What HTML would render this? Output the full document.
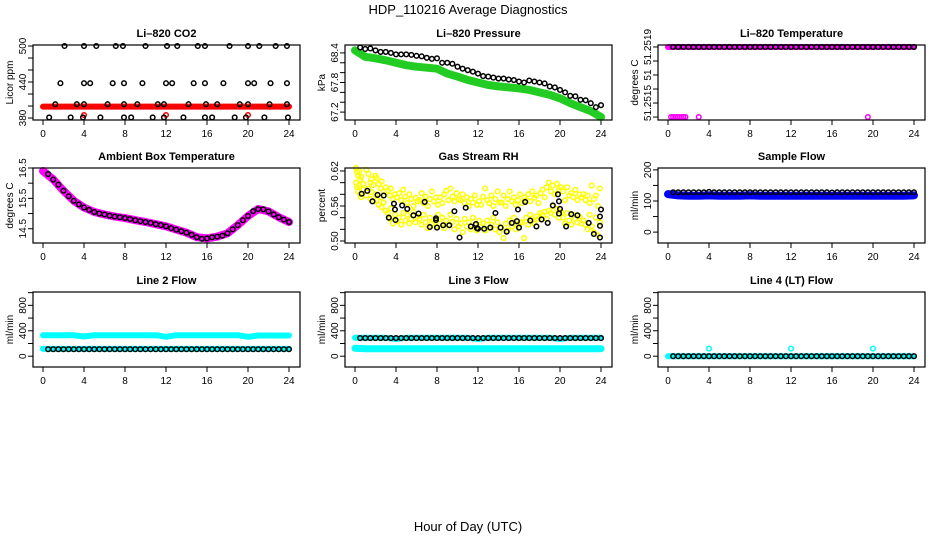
<!DOCTYPE html>
<html><head><meta charset="utf-8">
<style>
html,body{margin:0;padding:0;background:#fff;}
svg{display:block;font-family:"Liberation Sans",sans-serif;}
</style></head>
<body>
<svg id="chart" width="936" height="540" viewBox="0 0 936 540" xmlns="http://www.w3.org/2000/svg">
<rect x="0" y="0" width="936" height="540" fill="#fff"/>
<text x="468" y="14" text-anchor="middle" font-size="13">HDP_110216  Average Diagnostics</text>
<text x="468" y="531" text-anchor="middle" font-size="13">Hour of Day (UTC)</text>
</svg>
<script>
// ---------- data ----------
const halfHours = [0.5,1,1.5,2,2.5,3,3.5,4,4.5,5,5.5,6,6.5,7,7.5,8,8.5,9,9.5,10,10.5,11,11.5,12,12.5,13,13.5,14,14.5,15,15.5,16,16.5,17,17.5,18,18.5,19,19.5,20,20.5,21,21.5,22,22.5,23,23.5,24];
const hours = [0,1,2,3,4,5,6,7,8,9,10,11,12,13,14,15,16,17,18,19,20,21,22,23,24];
const xTicks = [0,4,8,12,16,20,24];

const co2BlackH = [2.1,4,5.2,7.1,7.8,10,12.1,13.1,15.1,15.8,18.2,20,21.1,22.7,23.8,
 1.7,4,4.6,6.8,7.9,9.7,12,12.6,14.7,15.8,17.6,20,20.6,22.2,23.8,
 1.2,3.3,4,6.3,7.9,9.2,11.2,11.8,14.2,15.9,17,19.2,20,22.1,23.8,
 0.6,2.7,3.9,5.6,7.9,8.6,10.7,11.8,13.7,15.8,16.5,18.7,19.8,21.6,23.9];
const co2BlackV = [500,500,500,500,500,500,500,500,500,500,500,500,500,500,500,
 438,438,438,438,438,438,438,438,438,438,438,438,438,438,438,
 403,403,403,403,403,403,403,403,403,403,403,403,403,403,403,
 381,381,381,381,381,381,381,381,381,381,381,381,381,381,381];
const co2Red = [399,399,399,399,399,399,399,399,399,399,399,399,399,399,399,399,399,399,399,399,399,399,399,399,399];
const co2RedSpikeH = [4,12,20];
const co2RedSpikeV = [385,385,385];

const presBlack = [68.51,68.48,68.49,68.45,68.42,68.42,68.4,68.37,68.37,68.37,68.36,68.34,68.33,68.3,68.28,68.29,68.2,68.2,68.18,68.12,68.08,68.05,68.02,67.98,67.93,67.92,67.9,67.88,67.88,67.86,67.85,67.82,67.8,67.84,67.82,67.8,67.78,67.72,67.7,67.65,67.6,67.53,67.52,67.45,67.44,67.38,67.3,67.34];
const presGreen = [68.45,68.32,68.29,68.25,68.2,68.15,68.12,68.1,68.08,67.98,67.92,67.85,67.8,67.75,67.72,67.7,67.68,67.65,67.6,67.55,67.48,67.38,67.3,67.22,67.1];

const tempBlack = [51.2519,51.2519,51.2519,51.2519,51.2519,51.2519,51.2519,51.2519,51.2519,51.2519,51.2519,51.2519,51.2519,51.2519,51.2519,51.2519,51.2519,51.2519,51.2519,51.2519,51.2519,51.2519,51.2519,51.2519,51.2519,51.2519,51.2519,51.2519,51.2519,51.2519,51.2519,51.2519,51.2519,51.2519,51.2519,51.2519,51.2519,51.2519,51.2519,51.2519,51.2519,51.2519,51.2519,51.2519,51.2519,51.2519,51.2519,51.2519];
const tempMagenta = [51.2519,51.2519,51.2519,51.2519,51.2519,51.2519,51.2519,51.2519,51.2519,51.2519,51.2519,51.2519,51.2519,51.2519,51.2519,51.2519,51.2519,51.2519,51.2519,51.2519,51.2519,51.2519,51.2519,51.2519,51.2519];
const tempLowH = [0.3,0.5,0.7,0.9,1.1,1.3,1.5,1.7,3.0,19.5];
const tempLowV = [51.2514,51.2514,51.2514,51.2514,51.2514,51.2514,51.2514,51.2514,51.2514,51.2514];

const ambBlack = [16.3,16.12,15.95,15.75,15.57,15.42,15.3,15.2,15.12,15.05,15.0,14.97,14.93,14.9,14.88,14.85,14.82,14.78,14.75,14.72,14.69,14.65,14.62,14.58,14.52,14.47,14.42,14.37,14.3,14.22,14.17,14.18,14.22,14.24,14.27,14.35,14.48,14.62,14.78,14.92,15.08,15.15,15.14,15.07,14.97,14.88,14.8,14.72];
const ambMagenta = [16.4,16.12,15.75,15.42,15.2,15.05,14.97,14.9,14.85,14.78,14.72,14.65,14.58,14.47,14.37,14.22,14.18,14.24,14.35,14.62,14.92,15.15,15.07,14.88,14.72];

const rhBlackH = [0.65,1.2,1.7,2.2,2.8,3.3,3.8,3.9,3.95,4.6,5.1,5.7,6.2,6.8,7.3,7.9,7.9,8.0,8.6,9.2,9.7,10.2,10.8,11.3,11.8,11.9,12.0,12.6,13.2,13.7,14.2,14.8,15.3,15.8,15.9,16.0,16.6,17.1,17.7,18.2,18.8,19.3,19.8,19.9,19.9,20.0,20.6,21.1,21.7,22.8,23.3,23.9,23.9,23.9,24.0];
const rhBlackV = [0.581,0.586,0.568,0.579,0.578,0.540,0.564,0.554,0.536,0.561,0.555,0.544,0.547,0.567,0.524,0.539,0.536,0.523,0.527,0.527,0.551,0.506,0.557,0.525,0.529,0.522,0.521,0.521,0.523,0.548,0.523,0.516,0.531,0.534,0.554,0.523,0.567,0.535,0.525,0.537,0.531,0.561,0.580,0.568,0.547,0.555,0.525,0.546,0.544,0.531,0.512,0.506,0.526,0.542,0.554];
const rhYellowH = [0.1,0.2,0.3,0.4,0.5,0.6,0.8, 1.1,1.3,1.5,1.6,1.8,2.0, 2.1,2.3,2.5,2.6,2.8,3.0, 3.2,3.4,3.5,3.7,3.9,4.1,
 4.3,4.5,4.7,4.9,5.1,5.3,5.5,5.7,5.9,6.1, 6.3,6.5,6.7,6.9,7.1,7.3,7.5,7.7,7.9,8.1, 8.3,8.5,8.7,8.9,9.1,9.3,9.5,9.7,9.9,10.1,
 10.3,10.5,10.7,10.9,11.1,11.3,11.5,11.7,11.9,12.1, 12.3,12.5,12.7,12.9,13.1,13.3,13.5,13.7,13.9,14.1,
 14.3,14.5,14.7,14.9,15.1,15.3,15.5,15.7,15.9,16.1, 16.3,16.5,16.7,16.9,17.1,17.3,17.5,17.7,17.9,18.1,
 18.3,18.5,18.7,18.9,19.1,19.3,19.5,19.7,19.9,20.1, 20.3,20.5,20.7,20.9,21.1,21.3,21.5,21.7,21.9,22.1,
 22.3,22.5,22.7,22.9,23.1,23.3,23.5,23.7,23.9];
const rhYellowA = [.625,.618,.612,.620,.605,.610,.598, .622,.615,.600,.606,.596,.612, .608,.598,.590,.602,.585,.592, .586,.578,.590,.572,.580,.575,
 .582,.570,.588,.576,.565,.580,.572,.560,.574,.568, .570,.582,.565,.576,.560,.572,.585,.568,.575,.562, .575,.565,.580,.586,.570,.590,.576,.568,.582,.572,
 .570,.580,.565,.575,.560,.572,.566,.578,.562,.568, .562,.576,.590,.570,.565,.578,.560,.572,.585,.566,
 .566,.578,.560,.572,.585,.568,.575,.562,.570,.580, .565,.575,.570,.580,.568,.585,.574,.578,.565,.582,
 .588,.575,.592,.600,.585,.595,.580,.598,.588,.592, .585,.570,.592,.578,.582,.575,.588,.570,.580,.575,
 .580,.570,.578,.565,.595,.572,.578,.560,.590];
const rhYellowB = [.600,.592,.585,.595,.580,.575,.588, .578,.590,.572,.584,.568,.580, .570,.562,.575,.558,.566,.552, .548,.538,.556,.530,.545,.534,
 .540,.528,.548,.535,.545,.530,.538,.550,.532,.542, .538,.528,.545,.532,.522,.540,.530,.535,.525,.545, .530,.540,.522,.535,.528,.545,.533,.520,.538,.525,
 .530,.515,.538,.525,.532,.520,.540,.528,.518,.535, .525,.530,.518,.535,.522,.528,.540,.520,.532,.515,
 .522,.505,.530,.518,.535,.525,.540,.520,.528,.532, .532,.505,.540,.528,.545,.535,.530,.542,.538,.548,
 .545,.550,.538,.552,.548,.560,.545,.555,.540,.550, .540,.530,.548,.535,.528,.545,.538,.532,.542,.530,
 .535,.528,.520,.545,.525,.515,.540,.510,.532];

const sampleBlack = [128,128,128,128,128,128,128,129,128,128,128,128,128,128,128,128,128,128,128,128,128,128,128,128,128,128,128,128,128,128,128,127,128,128,128,128,128,128,128,128,128,128,128,128,128,128,128,128];
const sampleBlue = [122,118,117,117,118,117,117,117,118,117,117,117,117,117,117,117,117,117,117,117,117,117,117,117,118];

const line2Black = [110,110,110,110,110,110,110,110,110,110,110,110,110,110,110,110,110,110,110,110,110,110,110,110,110,110,110,110,110,110,110,110,110,110,110,110,110,110,110,110,110,110,110,110,110,110,110,110];
const line2CyanHigh = [330,330,330,330,310,330,330,330,330,330,330,330,305,330,330,330,330,330,330,330,305,325,325,325,325];
const line2CyanLow = [115,115,115,115,115,115,115,115,115,115,115,115,115,115,115,115,115,115,115,115,115,115,115,115,115];

const line3Black = [285,285,285,285,285,285,285,285,285,285,285,285,285,285,285,285,285,285,285,285,285,285,285,285,285,285,285,285,285,285,285,285,285,285,285,285,285,285,285,285,285,285,285,285,285,285,285,285];
const line3CyanHigh = [290,290,290,290,270,290,290,290,290,290,290,290,270,290,290,290,290,290,290,290,270,290,290,290,290];
const line3CyanLow = [125,118,118,118,118,118,118,118,118,118,118,118,118,118,118,118,118,118,118,118,118,118,118,118,118];

const line4Black = [0,0,0,0,0,0,0,0,0,0,0,0,0,0,0,0,0,0,0,0,0,0,0,0,0,0,0,0,0,0,0,0,0,0,0,0,0,0,0,0,0,0,0,0,0,0,0,0];
const line4Cyan = [0,0,0,0,0,0,0,0,0,0,0,0,0,0,0,0,0,0,0,0,0,0,0,0,0];
const line4SpikeH = [4,12,20];
const line4SpikeV = [120,120,120];

// ---------- drawing ----------
const NS = 'http://www.w3.org/2000/svg';
const svg = document.getElementById('chart');
const colX0 = [43,355,668];
const rowTop = [45,168,292];
const boxH = 75;

function mk(tag, attrs, parent){
  const e = document.createElementNS(NS, tag);
  for (const k in attrs) e.setAttribute(k, attrs[k]);
  (parent || svg).appendChild(e);
  return e;
}

function panel(name, col, row, title, ytitle, ylim, yTicks, yLabelVals, yLabelTexts){
  const x0 = colX0[col];
  const left = x0 - 10, right = x0 + 257, top = rowTop[row], bottom = top + boxH;
  const g = mk('g', {});
  
  
  const sx = h => x0 + h * 10.25;
  const sy = v => bottom - (v - ylim[0]) / (ylim[1] - ylim[0]) * (bottom - top);
  const t = mk('text', {x: (left + right) / 2, y: top - 8, 'text-anchor': 'middle', 'font-size': 11, 'font-weight': 'bold'}, g);
  t.textContent = title;
  
  
  const yt = mk('text', {transform: `translate(${left - 20},${(top + bottom) / 2}) rotate(-90)`, 'text-anchor': 'middle', 'font-size': 10}, g);
  yt.textContent = ytitle;
  
  
  const ax = mk('g', {stroke: '#000', 'stroke-width': 1}, g);
  
  
  xTicks.forEach(v => {
    mk('line', {x1: sx(v), x2: sx(v), y1: bottom, y2: bottom + 5}, ax);
    const lt = mk('text', {x: sx(v), y: bottom + 17, 'text-anchor': 'middle', 'font-size': 10, stroke: 'none'}, g);
    lt.textContent = v;
    
    
  });
  yTicks.forEach(v => { mk('line', {x1: left - 5, x2: left, y1: sy(v), y2: sy(v)}, ax); });
  yLabelVals.forEach((v, i) => {
    const lt = mk('text', {transform: `translate(${left - 7},${sy(v)}) rotate(-90)`, 'text-anchor': 'middle', 'font-size': 10}, g);
    lt.textContent = yLabelTexts[i];
    
    
  });
  const clipG = mk('g', {}, g);
  mk('rect', {x: left, y: top, width: right - left, height: boxH, fill: 'none', stroke: '#000', 'stroke-width': 1.2}, g);
  return {g: clipG, sx, sy, name};
}

function circles(p, hs, vs, color, label){
  const grp = mk('g', {fill: 'none', stroke: color, 'stroke-width': 1.5}, p.g);
  
  
  hs.forEach((h, i) => {
    const c = mk('circle', {cx: p.sx(h), cy: p.sy(vs[i]), r: 2.3}, grp);
    
    
  });
}
function band(p, hs, vs, color, width, label){
  const d = hs.map((h, i) => (i ? 'L' : 'M') + p.sx(h).toFixed(1) + ',' + p.sy(vs[i]).toFixed(1)).join('');
  const path = mk('path', {d, fill: 'none', stroke: color, 'stroke-width': width, 'stroke-linecap': 'round', 'stroke-linejoin': 'round'}, p.g);
  
  
}

// Panel 1: CO2
let p = panel('co2', 0, 0, 'Li\u2013820 CO2', 'Licor ppm', [376.7, 501.7], [380,400,420,440,460,480,500], [380,440,500], ['380','440','500']);
band(p, hours, co2Red, '#ff0000', 6, 'red-series');
circles(p, co2RedSpikeH, co2RedSpikeV, '#ff0000', 'red-spikes');
circles(p, co2BlackH, co2BlackV, '#000', 'black-series');

// Panel 2: Pressure
p = panel('pressure', 1, 0, 'Li\u2013820 Pressure', 'kPa', [67.04, 68.56], [67.2,67.4,67.6,67.8,68.0,68.2,68.4], [67.2,67.8,68.4], ['67.2','67.8','68.4']);
band(p, hours, presGreen, '#22cc22', 8, 'green-series');
circles(p, halfHours, presBlack, '#000', 'black-series');

// Panel 3: Temperature
p = panel('temperature', 2, 0, 'Li\u2013820 Temperature', 'degrees C', [51.251379, 51.251914], [51.2514,51.2515,51.2516,51.2517,51.2518,51.2519], [51.2519,51.2517,51.2515], ['51.2519','51','51.2515']);
band(p, hours, tempMagenta, '#ff00ff', 6, 'magenta-series');
circles(p, tempLowH, tempLowV, '#ff00ff', 'magenta-low');
circles(p, halfHours, tempBlack, '#000', 'black-series');

// Panel 4: Ambient
p = panel('ambient', 0, 1, 'Ambient Box Temperature', 'degrees C', [14.03, 16.5], [14.5,15,15.5,16,16.5], [14.5,15.5,16.5], ['14.5','15.5','16.5']);
band(p, hours, ambMagenta, '#ff00ff', 8, 'magenta-series');
circles(p, halfHours, ambBlack, '#000', 'black-series');

// Panel 5: Gas stream RH
p = panel('rh', 1, 1, 'Gas Stream RH', 'percent', [0.4966, 0.6251], [0.50,0.52,0.54,0.56,0.58,0.60,0.62], [0.50,0.56,0.62], ['0.50','0.56','0.62']);
circles(p, rhYellowH, rhYellowA, '#ffff00', 'yellow-upper');
circles(p, rhYellowH, rhYellowB, '#ffff00', 'yellow-lower');
circles(p, rhBlackH, rhBlackV, '#000', 'black-series');

// Panel 6: Sample flow
p = panel('sample-flow', 2, 1, 'Sample Flow', 'ml/min', [-35, 206], [0,50,100,150,200], [0,100,200], ['0','100','200']);
band(p, hours, sampleBlue, '#0000ff', 8, 'blue-series');
circles(p, halfHours, sampleBlack, '#000', 'black-series');

// Panel 7: Line 2
p = panel('line2-flow', 0, 2, 'Line 2 Flow', 'ml/min', [-170, 1010], [0,200,400,600,800,1000], [0,400,800], ['0','400','800']);
band(p, hours, line2CyanHigh, '#00ffff', 6, 'cyan-high');
band(p, hours, line2CyanLow, '#00ffff', 6, 'cyan-low');
circles(p, halfHours, line2Black, '#000', 'black-series');

// Panel 8: Line 3
p = panel('line3-flow', 1, 2, 'Line 3 Flow', 'ml/min', [-170, 1010], [0,200,400,600,800,1000], [0,400,800], ['0','400','800']);
band(p, hours, line3CyanHigh, '#00ffff', 6, 'cyan-high');
band(p, hours, line3CyanLow, '#00ffff', 7, 'cyan-low');
circles(p, halfHours, line3Black, '#000', 'black-series');

// Panel 9: Line 4
p = panel('line4-flow', 2, 2, 'Line 4 (LT) Flow', 'ml/min', [-170, 1010], [0,200,400,600,800,1000], [0,400,800], ['0','400','800']);
band(p, hours, line4Cyan, '#00ffff', 6, 'cyan-series');
circles(p, line4SpikeH, line4SpikeV, '#00ffff', 'cyan-spikes');
circles(p, halfHours, line4Black, '#000', 'black-series');
</script>
</body></html>
